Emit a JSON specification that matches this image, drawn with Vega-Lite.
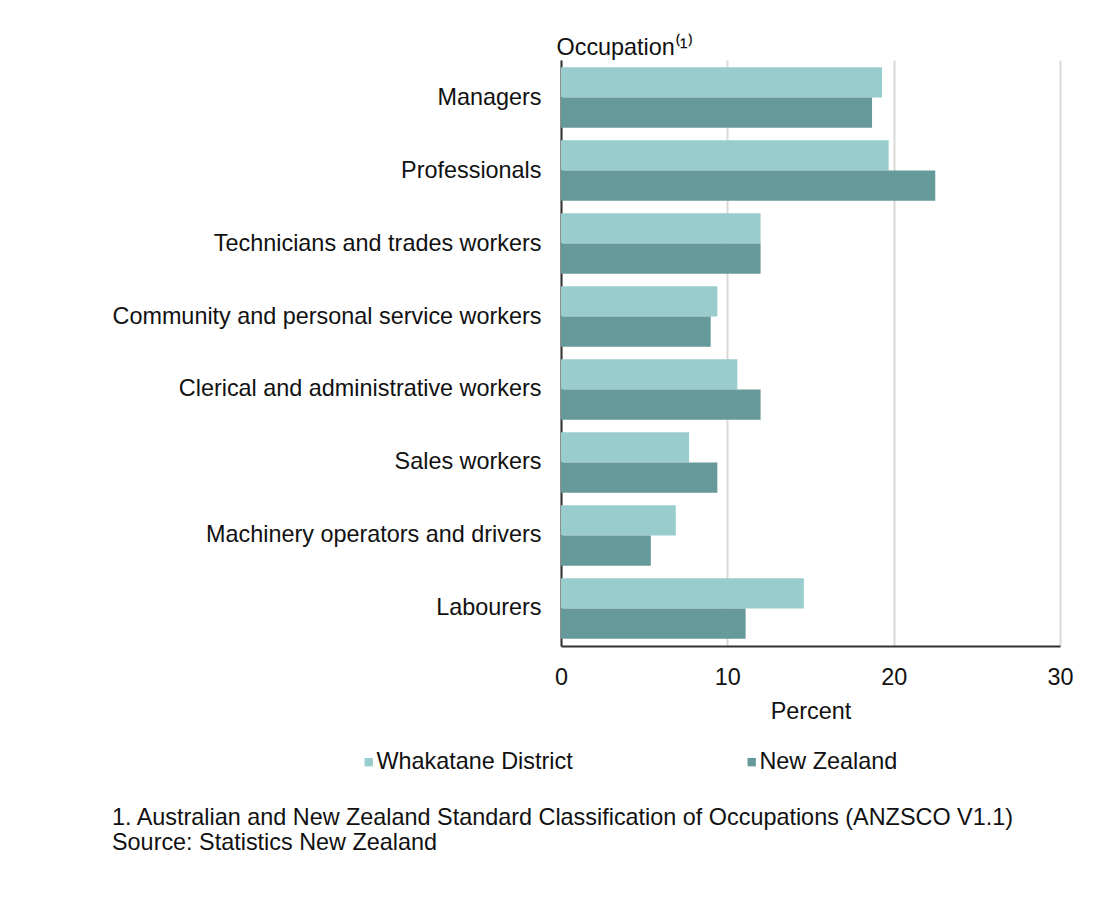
{
  "$schema": "https://vega.github.io/schema/vega-lite/v6.json",
  "autosize": {"type": "none"},
  "width": 499,
  "height": 586,
  "padding": {"left": 561, "top": 60, "right": 48, "bottom": 265},
  "background": "white",
  "data": {
    "values": [
      {"occupation": "Managers", "area": "Whakatane District", "percent": 19.3},
      {"occupation": "Managers", "area": "New Zealand", "percent": 18.7},
      {"occupation": "Professionals", "area": "Whakatane District", "percent": 19.7},
      {"occupation": "Professionals", "area": "New Zealand", "percent": 22.5},
      {"occupation": "Technicians and trades workers", "area": "Whakatane District", "percent": 12.0},
      {"occupation": "Technicians and trades workers", "area": "New Zealand", "percent": 12.0},
      {"occupation": "Community and personal service workers", "area": "Whakatane District", "percent": 9.4},
      {"occupation": "Community and personal service workers", "area": "New Zealand", "percent": 9.0},
      {"occupation": "Clerical and administrative workers", "area": "Whakatane District", "percent": 10.6},
      {"occupation": "Clerical and administrative workers", "area": "New Zealand", "percent": 12.0},
      {"occupation": "Sales workers", "area": "Whakatane District", "percent": 7.7},
      {"occupation": "Sales workers", "area": "New Zealand", "percent": 9.4},
      {"occupation": "Machinery operators and drivers", "area": "Whakatane District", "percent": 6.9},
      {"occupation": "Machinery operators and drivers", "area": "New Zealand", "percent": 5.4},
      {"occupation": "Labourers", "area": "Whakatane District", "percent": 14.6},
      {"occupation": "Labourers", "area": "New Zealand", "percent": 11.1}
    ]
  },
  "title": {
    "text": ["1. Australian and New Zealand Standard Classification of Occupations (ANZSCO V1.1)", "Source: Statistics New Zealand"],
    "orient": "bottom",
    "anchor": "start",
    "frame": "bounds",
    "fontSize": 23.4,
    "fontWeight": "normal",
    "font": "Liberation Sans",
    "color": "#111111",
    "lineHeight": 25,
    "offset": 33
  },
  "mark": {"type": "bar"},
  "encoding": {
    "y": {
      "field": "occupation",
      "type": "nominal",
      "sort": null,
      "scale": {"paddingInner": 0.17, "paddingOuter": 0.1},
      "axis": {
        "title": "Occupation⁽¹⁾",
        "titleAngle": 0,
        "titleAlign": "left",
        "titleBaseline": "alphabetic",
        "titleX": -5,
        "titleY": -6,
        "titleFontSize": 23.4,
        "titleFontWeight": "normal",
        "labelFontSize": 23.4,
        "labelPadding": 20,
        "labelLimit": 600,
        "ticks": false,
        "domainColor": "#333333",
        "domainWidth": 2
      }
    },
    "yOffset": {"field": "area", "sort": ["Whakatane District", "New Zealand"]},
    "x": {
      "field": "percent",
      "type": "quantitative",
      "scale": {"domain": [0, 30]},
      "axis": {
        "values": [0, 10, 20, 30],
        "title": "Percent",
        "titleFontSize": 23.4,
        "titleFontWeight": "normal",
        "titlePadding": 12,
        "labelFontSize": 23.4,
        "labelPadding": 20,
        "labelFlush": false,
        "ticks": false,
        "grid": true,
        "gridColor": "#d9d9d9",
        "gridWidth": 2,
        "domainColor": "#333333",
        "domainWidth": 2
      }
    },
    "color": {
      "field": "area",
      "type": "nominal",
      "scale": {"domain": ["Whakatane District", "New Zealand"], "range": ["#99cccc", "#669999"]},
      "legend": {
        "orient": "none",
        "legendX": -204,
        "legendY": 690,
        "padding": 0,
        "direction": "horizontal",
        "title": null,
        "symbolType": "square",
        "symbolSize": 70,
        "symbolStrokeWidth": 0,
        "labelFontSize": 23.4,
        "labelOffset": -4,
        "labelLimit": 400,
        "columnPadding": 167
      }
    }
  },
  "config": {
    "font": "Liberation Sans",
    "axis": {"labelFont": "Liberation Sans", "titleFont": "Liberation Sans", "labelColor": "#111111", "titleColor": "#111111"},
    "legend": {"labelFont": "Liberation Sans", "labelColor": "#111111"},
    "view": {"stroke": null}
  }
}
